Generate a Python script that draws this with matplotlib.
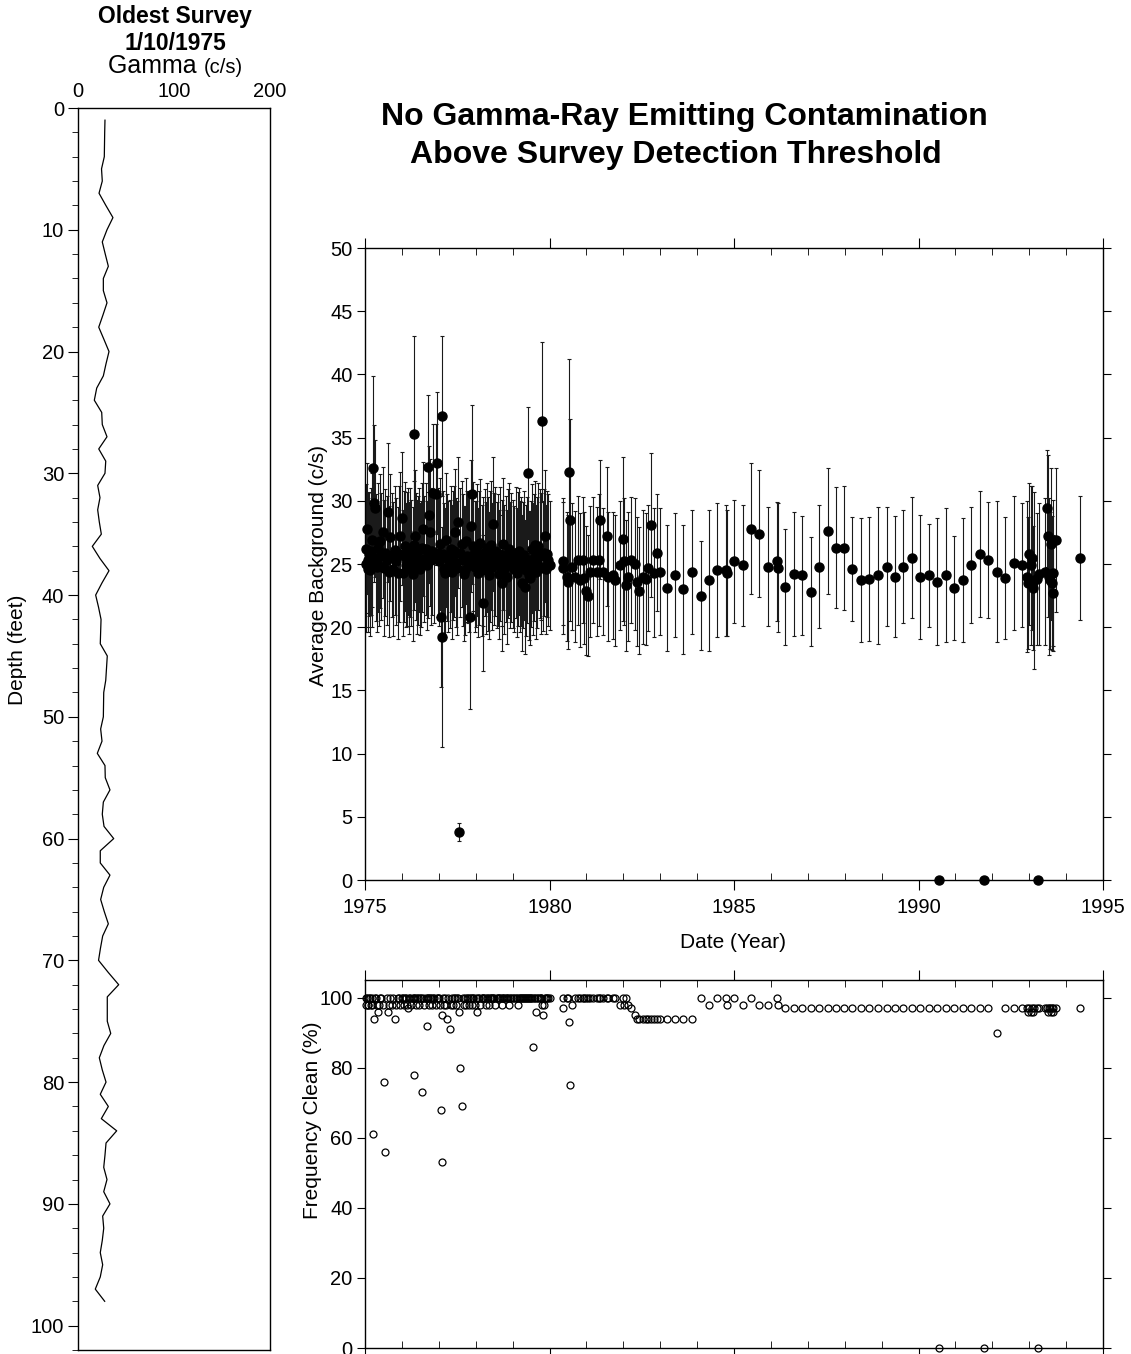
import matplotlib
matplotlib.use("Agg")
import matplotlib.pyplot as plt
from matplotlib.ticker import MultipleLocator

plt.rcParams["font.family"] = ["Liberation Sans", "DejaVu Sans"]

# ---- oldest gamma log (1/10/1975) ----
depth_ft = [1, 2, 3, 4, 5, 6, 7, 8, 9, 10,
            11, 12, 13, 14, 15, 16, 17, 18, 19, 20,
            21, 22, 23, 24, 25, 26, 27, 28, 29, 30,
            31, 32, 33, 34, 35, 36, 37, 38, 39, 40,
            41, 42, 43, 44, 45, 46, 47, 48, 49, 50,
            51, 52, 53, 54, 55, 56, 57, 58, 59, 60,
            61, 62, 63, 64, 65, 66, 67, 68, 69, 70,
            71, 72, 73, 74, 75, 76, 77, 78, 79, 80,
            81, 82, 83, 84, 85, 86, 87, 88, 89, 90,
            91, 92, 93, 94, 95, 96, 97, 98]
gamma_cps = [28.1, 27.8, 27.6, 27.4, 24.5, 25.3, 21.9, 29.0, 36.4, 30.2,
             25.3, 28.4, 31.6, 26.4, 26.4, 30.2, 26.0, 21.6, 27.0, 32.3,
             29.2, 26.4, 19.5, 17.0, 24.7, 25.3, 30.2, 21.6, 28.9, 28.1,
             20.5, 22.9, 20.5, 22.2, 24.3, 14.9, 22.9, 32.3, 25.0, 18.4,
             21.4, 24.0, 23.6, 23.2, 30.5, 29.7, 28.9, 26.8, 26.6, 26.4,
             23.6, 25.0, 20.1, 28.1, 28.4, 33.3, 26.4, 25.3, 27.1, 37.2,
             23.2, 23.2, 33.3, 26.8, 23.6, 27.4, 31.6, 25.7, 23.4, 21.4,
             31.6, 42.4, 30.5, 30.5, 30.5, 34.1, 27.0, 22.2, 25.3, 29.2,
             23.2, 31.6, 24.3, 40.3, 29.2, 28.1, 26.8, 30.2, 26.8, 33.3,
             25.7, 26.8, 25.3, 23.2, 25.7, 23.2, 18.0, 27.8]

# ---- survey history: date, average background, error, frequency clean ----
survey_date = [
    # 1975
    1975.02, 1975.04, 1975.05, 1975.07, 1975.09, 1975.12, 1975.14, 1975.16, 1975.18, 1975.20,
    1975.22, 1975.24, 1975.27, 1975.30, 1975.33, 1975.36, 1975.39, 1975.41, 1975.44, 1975.48,
    1975.51, 1975.55, 1975.59, 1975.63, 1975.66, 1975.68, 1975.72, 1975.76, 1975.81, 1975.85,
    1975.89, 1975.92, 1975.95, 1975.99,
    # 1976
    1976.03, 1976.06, 1976.09, 1976.12, 1976.15, 1976.17, 1976.20, 1976.23, 1976.26, 1976.29,
    1976.32, 1976.34, 1976.35, 1976.38, 1976.40, 1976.43, 1976.46, 1976.49, 1976.52, 1976.55,
    1976.58, 1976.61, 1976.65, 1976.68, 1976.70, 1976.72, 1976.74, 1976.76, 1976.79, 1976.82,
    1976.85, 1976.88, 1976.92, 1976.95, 1976.98,
    # 1977
    1977.01, 1977.03, 1977.06, 1977.08, 1977.09, 1977.11, 1977.14, 1977.17, 1977.20, 1977.23,
    1977.26, 1977.30, 1977.33, 1977.36, 1977.39, 1977.41, 1977.44, 1977.47, 1977.50, 1977.53,
    1977.55, 1977.58, 1977.62, 1977.65, 1977.68, 1977.71, 1977.74, 1977.77, 1977.80, 1977.83,
    1977.85, 1977.87, 1977.89, 1977.92, 1977.94, 1977.97,
    # 1978
    1978.01, 1978.04, 1978.07, 1978.10, 1978.13, 1978.16, 1978.19, 1978.21, 1978.24, 1978.27,
    1978.30, 1978.33, 1978.36, 1978.39, 1978.42, 1978.45, 1978.48, 1978.50, 1978.53, 1978.57,
    1978.60, 1978.63, 1978.66, 1978.70, 1978.72, 1978.75, 1978.78, 1978.81, 1978.84, 1978.88,
    1978.91, 1978.94, 1978.97,
    # 1979
    1979.02, 1979.05, 1979.08, 1979.11, 1979.14, 1979.17, 1979.20, 1979.23, 1979.25, 1979.28,
    1979.31, 1979.34, 1979.37, 1979.40, 1979.43, 1979.45, 1979.47, 1979.50, 1979.52, 1979.55,
    1979.58, 1979.61, 1979.64, 1979.67, 1979.70, 1979.73, 1979.76, 1979.78, 1979.80, 1979.82,
    1979.85, 1979.88, 1979.91, 1979.94, 1979.97, 1980.00,
    # 1980 - 1983
    1980.36, 1980.37, 1980.47, 1980.51, 1980.53, 1980.55, 1980.60, 1980.69, 1980.78, 1980.83,
    1980.92, 1980.94, 1980.99, 1981.03, 1981.10, 1981.19, 1981.28, 1981.35, 1981.37, 1981.44,
    1981.55, 1981.59, 1981.73, 1981.78, 1981.91, 1982.00, 1982.02, 1982.07, 1982.14, 1982.21,
    1982.32, 1982.36, 1982.43, 1982.53, 1982.61, 1982.68, 1982.75, 1982.83, 1982.90, 1982.99,
    1983.18, 1983.40, 1983.63, 1983.87,
    # 1984 - 1992
    1984.11, 1984.32, 1984.55, 1984.78, 1984.80, 1985.01, 1985.24, 1985.46, 1985.69, 1985.93,
    1986.16, 1986.18, 1986.39, 1986.62, 1986.84, 1987.08, 1987.30, 1987.54, 1987.76, 1987.99,
    1988.21, 1988.44, 1988.67, 1988.90, 1989.14, 1989.36, 1989.59, 1989.82, 1990.05, 1990.28,
    1990.51, 1990.56, 1990.75, 1990.97, 1991.21, 1991.43, 1991.66, 1991.78, 1991.89, 1992.12,
    1992.34, 1992.58, 1992.81,
    # 1993 - 1994
    1992.93, 1992.97, 1993.00, 1993.04, 1993.07, 1993.10, 1993.14, 1993.20, 1993.24, 1993.27,
    1993.43, 1993.47, 1993.52, 1993.53, 1993.56, 1993.58, 1993.61, 1993.64, 1993.65, 1993.73,
    1994.38,
]

avg_bg = [
    26.2, 25.0, 27.8, 24.6, 25.3, 25.8, 24.5, 26.0, 26.9, 25.1,
    32.6, 29.8, 29.4, 25.5, 24.8, 26.3, 24.9, 26.8, 25.6, 27.5,
    24.7, 25.9, 25.3, 29.1, 24.4, 27.1, 25.7, 24.6, 26.1, 25.2,
    24.3, 25.8, 27.2, 28.6,
    24.3, 25.6, 26.4, 24.9, 25.4, 26.0, 24.7, 25.9, 25.1, 24.2,
    26.5, 35.3, 27.2, 25.6, 24.8, 25.3, 26.1, 24.6, 25.0, 26.3,
    27.8, 25.4, 26.2, 24.9, 25.7, 32.7, 28.9, 27.5, 25.3, 26.0,
    30.6, 25.5, 30.5, 33.0, 25.9,
    25.2, 26.6, 20.8, 36.7, 19.2, 25.8, 24.6, 24.3, 26.9, 25.5,
    24.8, 25.0, 26.2, 24.4, 25.7, 26.0, 27.5, 25.1, 24.7, 28.3,
    3.8, 25.9, 26.6, 25.3, 24.2, 24.5, 26.8, 25.6, 25.4, 24.9,
    20.8, 28.0, 30.5, 25.7, 26.4, 24.8,
    25.0, 26.1, 24.3, 25.5, 26.7, 24.5, 25.2, 21.9, 25.9, 24.7,
    26.3, 25.0, 24.1, 25.6, 26.5, 24.8, 28.2, 25.4, 26.0, 24.9,
    25.3, 24.2, 25.8, 23.5, 25.1, 26.6, 24.6, 25.4, 24.0, 25.8,
    26.2, 24.9, 25.5,
    25.0, 24.6, 25.9, 24.3, 25.4, 26.0, 24.8, 25.2, 23.5, 24.9,
    25.7, 23.2, 24.5, 25.3, 32.2, 24.1, 23.9, 25.0, 26.2, 24.6,
    25.5, 26.5, 24.4, 25.1, 26.4, 25.8, 24.7, 25.6, 36.3, 24.8,
    25.9, 27.2, 24.6, 25.8, 25.3, 24.9,
    25.2, 24.7, 24.0, 23.6, 32.3, 28.5, 24.8, 24.0, 25.3, 23.7,
    25.3, 23.9, 22.9, 22.5, 24.4, 25.3, 24.4, 25.3, 28.5, 24.4,
    27.2, 24.0, 24.1, 23.7, 24.9, 27.0, 25.2, 23.3, 24.0, 25.3,
    25.0, 23.6, 22.9, 24.0, 23.8, 24.7, 28.1, 24.3, 25.9, 24.4,
    23.1, 24.1, 23.0, 24.4,
    22.5, 23.7, 24.5, 24.5, 24.3, 25.2, 24.9, 27.8, 27.4, 24.8,
    25.2, 24.7, 23.2, 24.2, 24.1, 22.8, 24.8, 27.6, 26.3, 26.3,
    24.6, 23.7, 23.8, 24.1, 24.8, 24.0, 24.8, 25.5, 24.0, 24.1,
    23.6, 0.0, 24.1, 23.1, 23.7, 24.9, 25.8, 0.0, 25.3, 24.4,
    23.9, 25.1, 24.9,
    24.0, 23.5, 25.8, 24.9, 25.5, 23.1, 23.7, 23.8, 0.0, 24.2,
    24.4, 29.4, 27.2, 24.0, 23.7, 26.6, 23.5, 22.7, 24.3, 26.9,
    25.5,
]

bg_err = [
    5.1, 5.4, 5.2, 5.0, 5.3, 4.9, 5.2, 5.0, 5.3, 5.1,
    7.3, 6.2, 5.4, 5.0, 5.2, 5.1, 4.8, 5.3, 5.0, 5.2,
    5.4, 5.0, 5.1, 5.5, 5.2, 5.0, 4.9, 5.3, 5.1, 5.0,
    5.2, 5.4, 5.1, 5.3,
    5.0, 5.2, 5.1, 4.9, 5.3, 5.0, 5.2, 5.1, 5.0, 5.3,
    5.1, 7.7, 5.2, 5.0, 5.3, 5.1, 4.9, 5.2, 5.0, 5.1,
    5.3, 5.0, 5.2, 5.1, 5.0, 5.7, 5.4, 5.8, 5.1, 5.0,
    5.5, 5.2, 5.6, 5.6, 5.1,
    5.1, 5.2, 5.5, 6.3, 8.7, 5.0, 5.2, 5.1, 5.3, 5.0,
    5.2, 5.1, 5.0, 5.3, 5.1, 5.2, 5.0, 5.1, 5.3, 5.2,
    0.7, 5.1, 5.0, 5.2, 5.3, 5.1, 5.0, 5.2, 5.1, 5.3,
    7.3, 5.2, 7.1, 5.0, 5.1, 5.2,
    5.0, 5.2, 5.1, 5.3, 5.0, 5.2, 5.1, 5.4, 5.0, 5.2,
    5.1, 5.3, 5.0, 5.2, 5.1, 5.0, 5.3, 5.2, 5.1, 5.0,
    5.2, 5.1, 5.3, 5.4, 5.0, 5.2, 5.1, 5.0, 5.3, 5.1,
    5.2, 5.0, 5.1,
    5.1, 5.0, 5.2, 5.1, 5.3, 5.0, 5.2, 5.1, 5.4, 5.0,
    5.1, 5.3, 5.2, 5.0, 5.2, 5.1, 5.3, 5.0, 5.1, 5.2,
    5.0, 5.1, 5.3, 5.2, 5.0, 5.1, 5.2, 5.0, 6.3, 5.1,
    5.0, 5.2, 5.1, 5.0, 5.2, 5.1,
    5.0, 5.2, 5.1, 5.3, 8.9, 8.0, 5.0, 5.2, 5.1, 5.3,
    5.0, 5.2, 5.1, 4.8, 5.2, 5.0, 5.1, 5.2, 4.7, 5.0,
    5.5, 5.1, 5.0, 5.2, 5.1, 6.5, 5.0, 5.2, 5.1, 5.0,
    5.2, 5.1, 5.0, 5.3, 5.2, 5.0, 5.7, 5.1, 4.6, 5.0,
    5.0, 4.9, 5.1, 4.9,
    4.3, 5.6, 5.3, 5.2, 5.0, 4.9, 4.8, 5.2, 5.0, 4.7,
    4.7, 5.1, 4.6, 4.9, 4.7, 4.3, 4.9, 5.0, 4.8, 4.9,
    4.1, 4.9, 4.9, 5.4, 4.7, 4.8, 4.5, 4.8, 4.9, 4.1,
    5.0, 0.0, 5.3, 4.1, 4.9, 4.6, 5.0, 0.0, 4.6, 5.6,
    4.8, 5.3, 4.9,
    6.0, 5.2, 5.6, 6.3, 5.7, 4.9, 7.0, 5.2, 0.0, 5.6,
    5.8, 4.6, 6.4, 6.2, 5.4, 6.0, 5.3, 4.6, 5.8, 5.7,
    4.9,
]

freq_clean = [
    100, 98, 100, 98, 98, 100, 100, 98, 100, 98,
    61, 94, 100, 100, 98, 96, 98, 100, 100, 98,
    76, 56, 100, 96, 98, 100, 98, 100, 94, 98,
    100, 100, 98, 100,
    100, 98, 100, 100, 98, 97, 100, 100, 98, 100,
    100, 78, 100, 98, 100, 100, 98, 100, 100, 73,
    100, 98, 100, 92, 100, 100, 98, 100, 100, 98,
    100, 100, 98, 100, 100,
    100, 98, 68, 95, 53, 100, 98, 100, 98, 94,
    100, 91, 98, 100, 98, 100, 100, 98, 100, 100,
    96, 80, 69, 100, 98, 100, 98, 100, 100, 98,
    100, 100, 98, 100, 100, 98,
    100, 96, 100, 100, 98, 100, 100, 100, 100, 98,
    100, 100, 98, 100, 100, 100, 100, 100, 98, 100,
    100, 100, 100, 100, 98, 100, 100, 100, 100, 100,
    98, 100, 100,
    100, 100, 100, 100, 98, 100, 100, 100, 100, 100,
    100, 100, 100, 100, 100, 100, 100, 100, 100, 86,
    100, 100, 96, 100, 100, 100, 100, 100, 98, 95,
    98, 100, 100, 100, 100, 100,
    100, 97, 100, 100, 93, 75, 98, 100, 100, 100,
    100, 100, 100, 100, 100, 100, 100, 100, 100, 100,
    100, 100, 100, 100, 98, 100, 98, 100, 98, 97,
    95, 94, 94, 94, 94, 94, 94, 94, 94, 94,
    94, 94, 94, 94,
    100, 98, 100, 100, 98, 100, 98, 100, 98, 98,
    100, 98, 97, 97, 97, 97, 97, 97, 97, 97,
    97, 97, 97, 97, 97, 97, 97, 97, 97, 97,
    97, 0, 97, 97, 97, 97, 97, 0, 97, 90,
    97, 97, 97,
    97, 96, 97, 96, 97, 96, 97, 97, 0, 97,
    97, 97, 96, 97, 97, 96, 97, 97, 96, 97,
    97,
]

year_ticks = [1975, 1980, 1985, 1990, 1995]

W, H = 1131, 1354


def box(x0, y0, x1, y1):
    # pixel box (top-left origin) -> figure fraction rect
    return [x0 / W, 1 - y1 / H, (x1 - x0) / W, (y1 - y0) / H]


fig = plt.figure(figsize=(W / 100, H / 100), dpi=100)

# ---- left panel: gamma log ----
ax_log = fig.add_axes(box(78, 108, 270, 1350))
ax_log.plot(gamma_cps, depth_ft, color="black", lw=0.9)
ax_log.set_xlim(0, 200)
ax_log.set_ylim(102, 0)
ax_log.xaxis.set_ticks_position("top")
ax_log.set_xticks([0, 100, 200])
ax_log.set_yticks(range(0, 101, 10))
ax_log.yaxis.set_minor_locator(MultipleLocator(2))
ax_log.tick_params(axis="x", length=0, pad=5, labelsize=14.5)
ax_log.tick_params(axis="y", which="major", direction="out", length=7, labelsize=14.5, pad=3)
ax_log.tick_params(axis="y", which="minor", direction="out", length=4)

fig.text(175 / W, 1 - 16 / H, "Oldest Survey", ha="center", va="center", fontsize=16.5, fontweight="bold")
fig.text(175 / W, 1 - 43 / H, "1/10/1975", ha="center", va="center", fontsize=16.5, fontweight="bold")
fig.text(204 / W, 1 - 73 / H, "Gamma ", ha="right", va="baseline", fontsize=18)
fig.text(204 / W, 1 - 73 / H, "(c/s)", ha="left", va="baseline", fontsize=14.5)
fig.text(18 / W, 1 - 650 / H, "Depth (feet)", ha="center", va="center", rotation=90, fontsize=15)

# ---- title ----
fig.text(684 / W, 1 - 117 / H, "No Gamma-Ray Emitting Contamination", ha="center", va="center",
         fontsize=23, fontweight="bold")
fig.text(676 / W, 1 - 155 / H, "Above Survey Detection Threshold", ha="center", va="center",
         fontsize=23, fontweight="bold")

# ---- average background ----
ax_bg = fig.add_axes(box(365, 248, 1103, 880))
eb = ax_bg.errorbar(survey_date, avg_bg, yerr=bg_err, fmt="o", color="black", ms=6.5,
                    ecolor="#1a1a1a", elinewidth=0.8, capsize=1.6, capthick=0.8)
eb[0].set_clip_on(False)
ax_bg.set_xlim(1975, 1995)
ax_bg.set_ylim(0, 50)
ax_bg.set_xticks(year_ticks)
ax_bg.xaxis.set_minor_locator(MultipleLocator(1))
ax_bg.set_yticks(range(0, 51, 5))
ax_bg.tick_params(axis="x", which="major", direction="out", length=7, top=True, labelsize=14.5, pad=6)
ax_bg.tick_params(axis="x", which="minor", direction="in", length=5, top=True)
ax_bg.tick_params(axis="y", which="major", direction="out", length=6, right=True, labelsize=14.5, pad=3)
fig.text(733 / W, 1 - 942 / H, "Date (Year)", ha="center", va="center", fontsize=15)
fig.text(318 / W, 1 - 565 / H, "Average Background (c/s)", ha="center", va="center",
         rotation=90, fontsize=15)

# ---- frequency clean ----
ax_fc = fig.add_axes(box(365, 980, 1103, 1348))
ax_fc.plot(survey_date, freq_clean, "o", mfc="none", mec="black", ms=5, mew=0.9, clip_on=False)
ax_fc.set_xlim(1975, 1995)
ax_fc.set_ylim(0, 105)
ax_fc.set_xticks(year_ticks)
ax_fc.xaxis.set_minor_locator(MultipleLocator(1))
ax_fc.set_yticks(range(0, 101, 20))
ax_fc.tick_params(axis="x", which="major", direction="out", length=7, top=True, labelbottom=False)
ax_fc.tick_params(axis="x", which="minor", direction="in", length=5, top=True)
ax_fc.tick_params(axis="y", which="major", direction="out", length=6, right=True, labelsize=14.5, pad=3)
fig.text(312 / W, 1 - 1120 / H, "Frequency Clean (%)", ha="center", va="center",
         rotation=90, fontsize=15)

for ax in (ax_log, ax_bg, ax_fc):
    for sp in ax.spines.values():
        sp.set_linewidth(1.0)

fig.savefig("out.png", dpi=100)
